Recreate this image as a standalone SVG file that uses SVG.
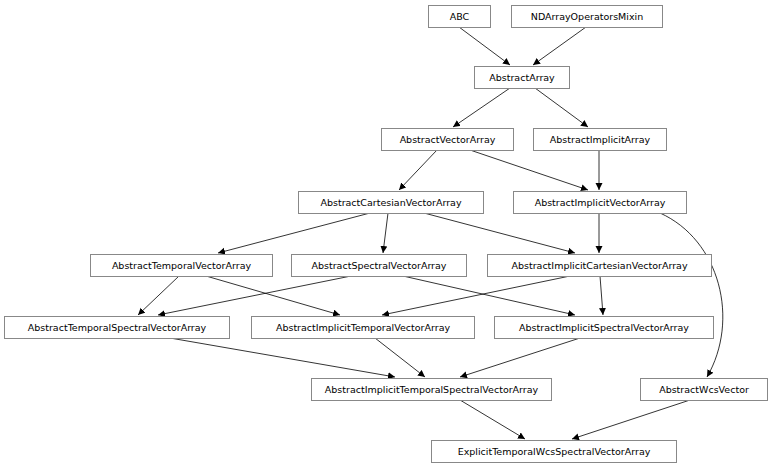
<svg xmlns="http://www.w3.org/2000/svg" width="768" height="468" viewBox="0 0 768 468">
<defs><marker id="a" markerWidth="8" markerHeight="8" refX="7" refY="3.5" orient="auto" markerUnits="userSpaceOnUse"><path d="M0,0 L7,3.5 L0,7 z" fill="#000"/></marker></defs>
<style>
rect{fill:#fff;stroke:#888;stroke-width:1}
text{font-family:"DejaVu Sans",sans-serif;font-size:9.5px;text-anchor:middle;fill:#000}
.e path{fill:none;stroke:#000;stroke-width:0.8;marker-end:url(#a)}
</style>
<rect width="768" height="468" style="stroke:none"/>
<g class="e">
<path d="M459,27 L510,65"/>
<path d="M586,27 L533,65"/>
<path d="M510,88 L453,127"/>
<path d="M535,88 L588,127"/>
<path d="M437,150 L399,190"/>
<path d="M470,150 L588,190"/>
<path d="M599,150 L599,190"/>
<path d="M370,213 L218,253"/>
<path d="M388,213 L383,253"/>
<path d="M424,213 L575,253"/>
<path d="M599,213 L599,253"/>
<path d="M660,213 C720,240 740,320 707,377"/>
<path d="M179,276 L138,315"/>
<path d="M206,276 L340,315"/>
<path d="M351,276 L158,315"/>
<path d="M403,276 L575,315"/>
<path d="M570,276 L382,315"/>
<path d="M600,276 L603,315"/>
<path d="M170,338 L395,377"/>
<path d="M375,338 L425,377"/>
<path d="M580,338 L460,377"/>
<path d="M460,400 L525,439"/>
<path d="M690,400 L572,439"/>
</g>
<g id="ABC"><rect x="428.5" y="5.5" width="62" height="22"/><text x="459.5" y="20">ABC</text></g>
<g id="NDArrayOperatorsMixin"><rect x="511.5" y="5.5" width="151" height="22"/><text x="587" y="20">NDArrayOperatorsMixin</text></g>
<g id="AbstractArray"><rect x="474.5" y="66.5" width="95" height="22"/><text x="522" y="81">AbstractArray</text></g>
<g id="AbstractVectorArray"><rect x="381.5" y="128.5" width="132" height="22"/><text x="447.5" y="143">AbstractVectorArray</text></g>
<g id="AbstractImplicitArray"><rect x="533.5" y="128.5" width="133" height="22"/><text x="600" y="143">AbstractImplicitArray</text></g>
<g id="AbstractCartesianVectorArray"><rect x="298.5" y="191.5" width="185" height="22"/><text x="391" y="206">AbstractCartesianVectorArray</text></g>
<g id="AbstractImplicitVectorArray"><rect x="513.5" y="191.5" width="173" height="22"/><text x="600" y="206">AbstractImplicitVectorArray</text></g>
<g id="AbstractTemporalVectorArray"><rect x="90.5" y="254.5" width="182" height="22"/><text x="181.5" y="269">AbstractTemporalVectorArray</text></g>
<g id="AbstractSpectralVectorArray"><rect x="291.5" y="254.5" width="175" height="22"/><text x="379" y="269">AbstractSpectralVectorArray</text></g>
<g id="AbstractImplicitCartesianVectorArray"><rect x="487.5" y="254.5" width="224" height="22"/><text x="599.5" y="269">AbstractImplicitCartesianVectorArray</text></g>
<g id="AbstractTemporalSpectralVectorArray"><rect x="4.5" y="316.5" width="225" height="22"/><text x="117" y="331">AbstractTemporalSpectralVectorArray</text></g>
<g id="AbstractImplicitTemporalVectorArray"><rect x="251.5" y="316.5" width="223" height="22"/><text x="363" y="331">AbstractImplicitTemporalVectorArray</text></g>
<g id="AbstractImplicitSpectralVectorArray"><rect x="494.5" y="316.5" width="219" height="22"/><text x="604" y="331">AbstractImplicitSpectralVectorArray</text></g>
<g id="AbstractImplicitTemporalSpectralVectorArray"><rect x="311.5" y="378.5" width="240" height="22"/><text x="431.5" y="393">AbstractImplicitTemporalSpectralVectorArray</text></g>
<g id="AbstractWcsVector"><rect x="640.5" y="378.5" width="127" height="22"/><text x="704" y="393">AbstractWcsVector</text></g>
<g id="ExplicitTemporalWcsSpectralVectorArray"><rect x="431.5" y="440.5" width="245" height="22"/><text x="554" y="455">ExplicitTemporalWcsSpectralVectorArray</text></g>
</svg>
